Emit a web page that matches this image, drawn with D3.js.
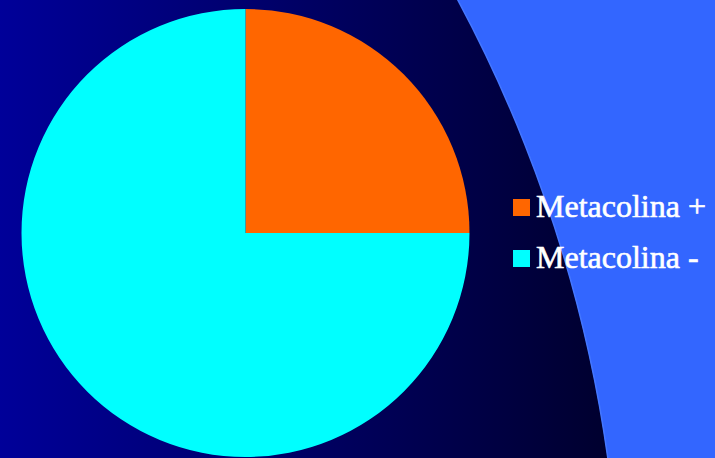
<!DOCTYPE html>
<html>
<head>
<meta charset="utf-8">
<script src="https://cdn.jsdelivr.net/npm/d3@7"></script>
<style>
html,body{margin:0;padding:0;background:#3366ff;}
svg{display:block;}
</style>
</head>
<body>
<svg id="chart" width="715" height="458"></svg>
<script>
const categories = ["Metacolina +", "Metacolina -"];
const values = [25, 75];
const colors = ["#ff6600", "#00ffff"];

const W = 715, H = 458;
const svg = d3.select("#chart");

const defs = svg.append("defs");
const grad = defs.append("linearGradient").attr("id", "bg")
  .attr("gradientUnits", "userSpaceOnUse")
  .attr("x1", 0).attr("y1", 0).attr("x2", 610).attr("y2", 0);
grad.append("stop").attr("offset", "0%").attr("stop-color", "#000099");
grad.append("stop").attr("offset", "100%").attr("stop-color", "#00002e");

svg.append("rect").attr("width", W).attr("height", H).attr("fill", "#3366ff");
svg.append("circle")
  .attr("cx", -751).attr("cy", 649).attr("r", 1372)
  .attr("fill", "url(#bg)")
  .attr("stroke", "#4477ff").attr("stroke-width", 1.5);

const cx = 245.5, cy = 233, r = 224;
const pie = d3.pie().sort(null).value(d => d)(values);
const arc = d3.arc().innerRadius(0).outerRadius(r);
const g = svg.append("g").attr("transform", `translate(${cx},${cy})`);
g.selectAll("path").data(pie).join("path")
  .attr("d", arc)
  .attr("fill", (d, i) => colors[i]);

const legend = svg.append("g").attr("transform", "translate(513,199)");
const items = legend.selectAll("g").data(categories).join("g")
  .attr("transform", (d, i) => `translate(0,${i * 51})`);
items.append("rect").attr("width", 17).attr("height", 17)
  .attr("fill", (d, i) => colors[i]);
items.append("text")
  .attr("x", 23).attr("y", 18)
  .attr("font-family", "'Liberation Serif', 'Times New Roman', serif")
  .attr("font-size", 32)
  .attr("fill", "#ffffff")
  .attr("stroke", "#ffffff")
  .attr("stroke-width", 0.6)
  .text(d => d);
</script>
</body>
</html>
